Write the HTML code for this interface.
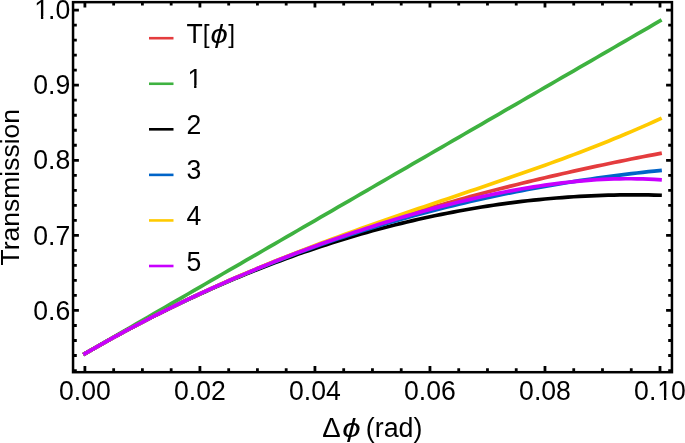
<!DOCTYPE html>
<html><head><meta charset="utf-8"><style>html,body{margin:0;padding:0;background:#fff;overflow:hidden;}svg{display:block;}</style></head>
<body>
<svg width="685" height="443" viewBox="0 0 685 443">
<defs><clipPath id="c"><rect x="73.05" y="2.15" width="598.9000000000001" height="370.05"/></clipPath></defs>
<g clip-path="url(#c)" fill="none" stroke-width="3.7" stroke-linecap="square" stroke-linejoin="round">
<path stroke="#e43c3e" d="M84.90,353.64 L90.65,350.33 L96.40,347.05 L102.15,343.81 L107.90,340.60 L113.66,337.43 L119.41,334.29 L125.16,331.19 L130.91,328.12 L136.66,325.08 L142.41,322.07 L148.16,319.10 L153.91,316.16 L159.66,313.26 L165.41,310.38 L171.17,307.54 L176.92,304.73 L182.67,301.95 L188.42,299.20 L194.17,296.48 L199.92,293.79 L205.67,291.14 L211.42,288.51 L217.17,285.91 L222.92,283.34 L228.68,280.81 L234.43,278.30 L240.18,275.81 L245.93,273.36 L251.68,270.93 L257.43,268.54 L263.18,266.17 L268.93,263.82 L274.68,261.51 L280.43,259.22 L286.19,256.95 L291.94,254.71 L297.69,252.50 L303.44,250.31 L309.19,248.15 L314.94,246.01 L320.69,243.90 L326.44,241.81 L332.19,239.75 L337.94,237.70 L343.70,235.69 L349.45,233.69 L355.20,231.72 L360.95,229.77 L366.70,227.84 L372.45,225.94 L378.20,224.05 L383.95,222.19 L389.70,220.35 L395.45,218.53 L401.21,216.73 L406.96,214.95 L412.71,213.19 L418.46,211.45 L424.21,209.73 L429.96,208.03 L435.71,206.35 L441.46,204.69 L447.21,203.05 L452.96,201.42 L458.72,199.81 L464.47,198.23 L470.22,196.65 L475.97,195.10 L481.72,193.57 L487.47,192.05 L493.22,190.55 L498.97,189.06 L504.72,187.59 L510.47,186.14 L516.23,184.70 L521.98,183.28 L527.73,181.88 L533.48,180.49 L539.23,179.12 L544.98,177.76 L550.73,176.41 L556.48,175.08 L562.23,173.77 L567.98,172.47 L573.74,171.18 L579.49,169.91 L585.24,168.65 L590.99,167.41 L596.74,166.17 L602.49,164.96 L608.24,163.75 L613.99,162.56 L619.74,161.38 L625.49,160.21 L631.25,159.06 L637.00,157.92 L642.75,156.79 L648.50,155.67 L654.25,154.56 L660.00,153.47"/>
<path stroke="#3eb240" d="M84.90,353.64 L90.65,350.31 L96.40,346.98 L102.15,343.65 L107.90,340.33 L113.66,337.00 L119.41,333.67 L125.16,330.34 L130.91,327.02 L136.66,323.69 L142.41,320.36 L148.16,317.03 L153.91,313.71 L159.66,310.38 L165.41,307.05 L171.17,303.72 L176.92,300.39 L182.67,297.07 L188.42,293.74 L194.17,290.41 L199.92,287.08 L205.67,283.76 L211.42,280.43 L217.17,277.10 L222.92,273.77 L228.68,270.45 L234.43,267.12 L240.18,263.79 L245.93,260.46 L251.68,257.14 L257.43,253.81 L263.18,250.48 L268.93,247.15 L274.68,243.83 L280.43,240.50 L286.19,237.17 L291.94,233.84 L297.69,230.52 L303.44,227.19 L309.19,223.86 L314.94,220.53 L320.69,217.20 L326.44,213.88 L332.19,210.55 L337.94,207.22 L343.70,203.89 L349.45,200.57 L355.20,197.24 L360.95,193.91 L366.70,190.58 L372.45,187.26 L378.20,183.93 L383.95,180.60 L389.70,177.27 L395.45,173.95 L401.21,170.62 L406.96,167.29 L412.71,163.96 L418.46,160.64 L424.21,157.31 L429.96,153.98 L435.71,150.65 L441.46,147.32 L447.21,144.00 L452.96,140.67 L458.72,137.34 L464.47,134.01 L470.22,130.69 L475.97,127.36 L481.72,124.03 L487.47,120.70 L493.22,117.38 L498.97,114.05 L504.72,110.72 L510.47,107.39 L516.23,104.07 L521.98,100.74 L527.73,97.41 L533.48,94.08 L539.23,90.76 L544.98,87.43 L550.73,84.10 L556.48,80.77 L562.23,77.44 L567.98,74.12 L573.74,70.79 L579.49,67.46 L585.24,64.13 L590.99,60.81 L596.74,57.48 L602.49,54.15 L608.24,50.82 L613.99,47.50 L619.74,44.17 L625.49,40.84 L631.25,37.51 L637.00,34.19 L642.75,30.86 L648.50,27.53 L654.25,24.20 L660.00,20.88"/>
<path stroke="#000000" d="M84.90,353.64 L90.65,350.33 L96.40,347.05 L102.15,343.81 L107.90,340.61 L113.66,337.43 L119.41,334.30 L125.16,331.20 L130.91,328.13 L136.66,325.10 L142.41,322.10 L148.16,319.14 L153.91,316.22 L159.66,313.32 L165.41,310.47 L171.17,307.65 L176.92,304.86 L182.67,302.11 L188.42,299.39 L194.17,296.71 L199.92,294.06 L205.67,291.45 L211.42,288.87 L217.17,286.32 L222.92,283.82 L228.68,281.34 L234.43,278.90 L240.18,276.50 L245.93,274.13 L251.68,271.80 L257.43,269.50 L263.18,267.24 L268.93,265.01 L274.68,262.81 L280.43,260.65 L286.19,258.53 L291.94,256.44 L297.69,254.38 L303.44,252.36 L309.19,250.38 L314.94,248.43 L320.69,246.51 L326.44,244.63 L332.19,242.79 L337.94,240.97 L343.70,239.20 L349.45,237.46 L355.20,235.75 L360.95,234.08 L366.70,232.44 L372.45,230.84 L378.20,229.28 L383.95,227.74 L389.70,226.25 L395.45,224.78 L401.21,223.36 L406.96,221.96 L412.71,220.61 L418.46,219.28 L424.21,218.00 L429.96,216.74 L435.71,215.53 L441.46,214.34 L447.21,213.19 L452.96,212.08 L458.72,211.00 L464.47,209.96 L470.22,208.95 L475.97,207.98 L481.72,207.04 L487.47,206.13 L493.22,205.26 L498.97,204.43 L504.72,203.63 L510.47,202.86 L516.23,202.13 L521.98,201.44 L527.73,200.78 L533.48,200.15 L539.23,199.56 L544.98,199.01 L550.73,198.49 L556.48,198.00 L562.23,197.55 L567.98,197.13 L573.74,196.75 L579.49,196.41 L585.24,196.10 L590.99,195.82 L596.74,195.58 L602.49,195.37 L608.24,195.20 L613.99,195.06 L619.74,194.96 L625.49,194.89 L631.25,194.86 L637.00,194.86 L642.75,194.90 L648.50,194.97 L654.25,195.08 L660.00,195.22"/>
<path stroke="#0064c8" d="M84.90,353.64 L90.65,350.33 L96.40,347.05 L102.15,343.81 L107.90,340.60 L113.66,337.43 L119.41,334.29 L125.16,331.19 L130.91,328.12 L136.66,325.08 L142.41,322.08 L148.16,319.11 L153.91,316.17 L159.66,313.27 L165.41,310.40 L171.17,307.56 L176.92,304.76 L182.67,301.98 L188.42,299.24 L194.17,296.54 L199.92,293.86 L205.67,291.22 L211.42,288.60 L217.17,286.02 L222.92,283.47 L228.68,280.96 L234.43,278.47 L240.18,276.01 L245.93,273.59 L251.68,271.19 L257.43,268.83 L263.18,266.50 L268.93,264.20 L274.68,261.92 L280.43,259.68 L286.19,257.47 L291.94,255.28 L297.69,253.13 L303.44,251.01 L309.19,248.91 L314.94,246.84 L320.69,244.81 L326.44,242.80 L332.19,240.82 L337.94,238.87 L343.70,236.94 L349.45,235.05 L355.20,233.18 L360.95,231.34 L366.70,229.53 L372.45,227.75 L378.20,225.99 L383.95,224.26 L389.70,222.56 L395.45,220.89 L401.21,219.24 L406.96,217.62 L412.71,216.03 L418.46,214.46 L424.21,212.92 L429.96,211.40 L435.71,209.91 L441.46,208.45 L447.21,207.01 L452.96,205.59 L458.72,204.21 L464.47,202.85 L470.22,201.51 L475.97,200.20 L481.72,198.91 L487.47,197.65 L493.22,196.41 L498.97,195.19 L504.72,194.00 L510.47,192.84 L516.23,191.70 L521.98,190.58 L527.73,189.48 L533.48,188.41 L539.23,187.36 L544.98,186.34 L550.73,185.34 L556.48,184.36 L562.23,183.40 L567.98,182.47 L573.74,181.56 L579.49,180.67 L585.24,179.80 L590.99,178.96 L596.74,178.13 L602.49,177.33 L608.24,176.55 L613.99,175.79 L619.74,175.06 L625.49,174.34 L631.25,173.65 L637.00,172.97 L642.75,172.32 L648.50,171.68 L654.25,171.07 L660.00,170.48"/>
<path stroke="#ffca00" d="M84.90,353.64 L90.65,350.33 L96.40,347.05 L102.15,343.81 L107.90,340.60 L113.66,337.43 L119.41,334.29 L125.16,331.19 L130.91,328.12 L136.66,325.08 L142.41,322.07 L148.16,319.10 L153.91,316.16 L159.66,313.26 L165.41,310.38 L171.17,307.54 L176.92,304.72 L182.67,301.94 L188.42,299.19 L194.17,296.47 L199.92,293.78 L205.67,291.12 L211.42,288.48 L217.17,285.88 L222.92,283.30 L228.68,280.75 L234.43,278.23 L240.18,275.74 L245.93,273.27 L251.68,270.83 L257.43,268.41 L263.18,266.02 L268.93,263.65 L274.68,261.31 L280.43,258.99 L286.19,256.69 L291.94,254.42 L297.69,252.16 L303.44,249.93 L309.19,247.72 L314.94,245.52 L320.69,243.35 L326.44,241.19 L332.19,239.05 L337.94,236.93 L343.70,234.83 L349.45,232.74 L355.20,230.66 L360.95,228.60 L366.70,226.56 L372.45,224.52 L378.20,222.50 L383.95,220.49 L389.70,218.49 L395.45,216.50 L401.21,214.52 L406.96,212.54 L412.71,210.58 L418.46,208.62 L424.21,206.66 L429.96,204.71 L435.71,202.77 L441.46,200.82 L447.21,198.88 L452.96,196.94 L458.72,195.00 L464.47,193.05 L470.22,191.11 L475.97,189.16 L481.72,187.21 L487.47,185.26 L493.22,183.29 L498.97,181.33 L504.72,179.35 L510.47,177.36 L516.23,175.37 L521.98,173.36 L527.73,171.34 L533.48,169.31 L539.23,167.27 L544.98,165.20 L550.73,163.13 L556.48,161.03 L562.23,158.91 L567.98,156.78 L573.74,154.62 L579.49,152.44 L585.24,150.24 L590.99,148.01 L596.74,145.76 L602.49,143.48 L608.24,141.17 L613.99,138.83 L619.74,136.46 L625.49,134.05 L631.25,131.62 L637.00,129.14 L642.75,126.63 L648.50,124.09 L654.25,121.50 L660.00,118.88"/>
<path stroke="#c800ff" d="M84.90,353.64 L90.65,350.33 L96.40,347.05 L102.15,343.81 L107.90,340.60 L113.66,337.43 L119.41,334.29 L125.16,331.19 L130.91,328.12 L136.66,325.08 L142.41,322.07 L148.16,319.10 L153.91,316.16 L159.66,313.26 L165.41,310.38 L171.17,307.54 L176.92,304.73 L182.67,301.95 L188.42,299.20 L194.17,296.48 L199.92,293.80 L205.67,291.14 L211.42,288.51 L217.17,285.92 L222.92,283.35 L228.68,280.81 L234.43,278.31 L240.18,275.83 L245.93,273.38 L251.68,270.95 L257.43,268.56 L263.18,266.20 L268.93,263.86 L274.68,261.55 L280.43,259.27 L286.19,257.01 L291.94,254.78 L297.69,252.58 L303.44,250.41 L309.19,248.27 L314.94,246.15 L320.69,244.05 L326.44,241.99 L332.19,239.95 L337.94,237.94 L343.70,235.95 L349.45,233.99 L355.20,232.06 L360.95,230.16 L366.70,228.28 L372.45,226.43 L378.20,224.60 L383.95,222.81 L389.70,221.04 L395.45,219.30 L401.21,217.58 L406.96,215.90 L412.71,214.24 L418.46,212.61 L424.21,211.02 L429.96,209.45 L435.71,207.91 L441.46,206.40 L447.21,204.92 L452.96,203.48 L458.72,202.06 L464.47,200.68 L470.22,199.33 L475.97,198.02 L481.72,196.74 L487.47,195.49 L493.22,194.28 L498.97,193.11 L504.72,191.97 L510.47,190.88 L516.23,189.82 L521.98,188.80 L527.73,187.83 L533.48,186.89 L539.23,186.00 L544.98,185.16 L550.73,184.36 L556.48,183.61 L562.23,182.90 L567.98,182.25 L573.74,181.64 L579.49,181.09 L585.24,180.59 L590.99,180.15 L596.74,179.76 L602.49,179.44 L608.24,179.17 L613.99,178.96 L619.74,178.82 L625.49,178.75 L631.25,178.74 L637.00,178.80 L642.75,178.93 L648.50,179.13 L654.25,179.42 L660.00,179.77"/>
</g>
<path fill="none" stroke="#000" stroke-width="2.8" d="M84.90,372.20V366.1M84.90,2.15V7.6M113.66,372.20V368.2M113.66,2.15V5.6M142.41,372.20V368.2M142.41,2.15V5.6M171.17,372.20V368.2M171.17,2.15V5.6M199.92,372.20V366.1M199.92,2.15V7.6M228.68,372.20V368.2M228.68,2.15V5.6M257.43,372.20V368.2M257.43,2.15V5.6M286.19,372.20V368.2M286.19,2.15V5.6M314.94,372.20V366.1M314.94,2.15V7.6M343.70,372.20V368.2M343.70,2.15V5.6M372.45,372.20V368.2M372.45,2.15V5.6M401.21,372.20V368.2M401.21,2.15V5.6M429.96,372.20V366.1M429.96,2.15V7.6M458.72,372.20V368.2M458.72,2.15V5.6M487.47,372.20V368.2M487.47,2.15V5.6M516.23,372.20V368.2M516.23,2.15V5.6M544.98,372.20V366.1M544.98,2.15V7.6M573.74,372.20V368.2M573.74,2.15V5.6M602.49,372.20V368.2M602.49,2.15V5.6M631.25,372.20V368.2M631.25,2.15V5.6M660.00,372.20V366.1M660.00,2.15V7.6M73.05,370.53H76.8M671.95,370.53H668.2M73.05,355.51H76.8M671.95,355.51H668.2M73.05,340.50H76.8M671.95,340.50H668.2M73.05,325.48H76.8M671.95,325.48H668.2M73.05,310.46H78.9M671.95,310.46H666.1M73.05,295.44H76.8M671.95,295.44H668.2M73.05,280.42H76.8M671.95,280.42H668.2M73.05,265.41H76.8M671.95,265.41H668.2M73.05,250.39H76.8M671.95,250.39H668.2M73.05,235.37H78.9M671.95,235.37H666.1M73.05,220.35H76.8M671.95,220.35H668.2M73.05,205.33H76.8M671.95,205.33H668.2M73.05,190.32H76.8M671.95,190.32H668.2M73.05,175.30H76.8M671.95,175.30H668.2M73.05,160.28H78.9M671.95,160.28H666.1M73.05,145.26H76.8M671.95,145.26H668.2M73.05,130.24H76.8M671.95,130.24H668.2M73.05,115.23H76.8M671.95,115.23H668.2M73.05,100.21H76.8M671.95,100.21H668.2M73.05,85.19H78.9M671.95,85.19H666.1M73.05,70.17H76.8M671.95,70.17H668.2M73.05,55.15H76.8M671.95,55.15H668.2M73.05,40.14H76.8M671.95,40.14H668.2M73.05,25.12H76.8M671.95,25.12H668.2M73.05,10.10H78.9M671.95,10.10H666.1"/>
<rect x="73.05" y="2.15" width="598.9000000000001" height="370.05" fill="none" stroke="#000" stroke-width="2.5"/>
<g font-family="Liberation Sans, Arial, sans-serif" font-size="26.6" fill="#000">
<text transform="translate(59.02,399.70) scale(1,1.04)">0.00</text>
<text transform="translate(174.04,399.70) scale(1,1.04)">0.02</text>
<text transform="translate(289.06,399.70) scale(1,1.04)">0.04</text>
<text transform="translate(404.08,399.70) scale(1,1.04)">0.06</text>
<text transform="translate(519.10,399.70) scale(1,1.04)">0.08</text>
<text transform="translate(634.12,399.70) scale(1,1.04)" clip-path="url(#k0)">0.<tspan dx="1.0">1</tspan><tspan dx="-1.0">0</tspan></text>
<text transform="translate(33.23,319.61) scale(1,1.04)">0.6</text>
<text transform="translate(33.23,244.52) scale(1,1.04)">0.7</text>
<text transform="translate(33.23,169.43) scale(1,1.04)">0.8</text>
<text transform="translate(33.23,94.34) scale(1,1.04)">0.9</text>
<text transform="translate(33.23,19.25) scale(1,1.04)" clip-path="url(#k1)"><tspan dx="1.0">1</tspan><tspan dx="-1.0">.</tspan>0</text>
<text x="322.2" y="436.8" font-size="27.6">Δ<tspan dx="1.55" font-style="italic" font-size="26.5" textLength="18.42" lengthAdjust="spacingAndGlyphs">ϕ</tspan><tspan dx="-2.2" dy="0.4" font-size="26.8"> (rad)</tspan></text>
<text transform="translate(19,187.2) rotate(-90)" text-anchor="middle" font-size="26.5">Transmission</text>
<line x1="149" x2="173.5" y1="38.20" y2="38.20" stroke="#e43c3e" stroke-width="2.6"/>
<text transform="translate(186.40,42.80) scale(1,1.04)">T<tspan font-size="24.6">[</tspan><tspan dx="1.0" font-style="italic" font-size="25" textLength="17.35" lengthAdjust="spacingAndGlyphs">ϕ</tspan><tspan dx="0.35" font-size="24.6">]</tspan></text>
<line x1="149" x2="173.5" y1="83.76" y2="83.76" stroke="#3eb240" stroke-width="2.6"/>
<text transform="translate(186.40,88.36) scale(1,1.04)" clip-path="url(#k2)"><tspan dx="1.0">1</tspan></text>
<line x1="149" x2="173.5" y1="129.32" y2="129.32" stroke="#000000" stroke-width="2.6"/>
<text transform="translate(186.40,133.92) scale(1,1.04)">2</text>
<line x1="149" x2="173.5" y1="174.88" y2="174.88" stroke="#0064c8" stroke-width="2.6"/>
<text transform="translate(186.40,179.48) scale(1,1.04)">3</text>
<line x1="149" x2="173.5" y1="220.44" y2="220.44" stroke="#ffca00" stroke-width="2.6"/>
<text transform="translate(186.40,225.04) scale(1,1.04)">4</text>
<line x1="149" x2="173.5" y1="266.00" y2="266.00" stroke="#c800ff" stroke-width="2.6"/>
<text transform="translate(186.40,270.60) scale(1,1.04)">5</text>
</g>
<defs><clipPath id="k0" clipPathUnits="userSpaceOnUse"><rect x="-5" y="-31.92" width="61.76" height="28.93"/><rect x="-5" y="-31.92" width="29.61" height="39.90"/><rect x="37.28" y="-31.92" width="19.48" height="39.90"/><rect x="29.87" y="-31.92" width="2.35" height="32.92"/></clipPath><clipPath id="k1" clipPathUnits="userSpaceOnUse"><rect x="-5" y="-31.92" width="46.97" height="28.93"/><rect x="-5" y="-31.92" width="7.43" height="39.90"/><rect x="15.09" y="-31.92" width="26.88" height="39.90"/><rect x="7.69" y="-31.92" width="2.35" height="32.92"/></clipPath><clipPath id="k2" clipPathUnits="userSpaceOnUse"><rect x="-5" y="-31.92" width="24.79" height="28.93"/><rect x="-5" y="-31.92" width="7.43" height="39.90"/><rect x="15.09" y="-31.92" width="4.69" height="39.90"/><rect x="7.69" y="-31.92" width="2.35" height="32.92"/></clipPath></defs>
</svg>
</body></html>
